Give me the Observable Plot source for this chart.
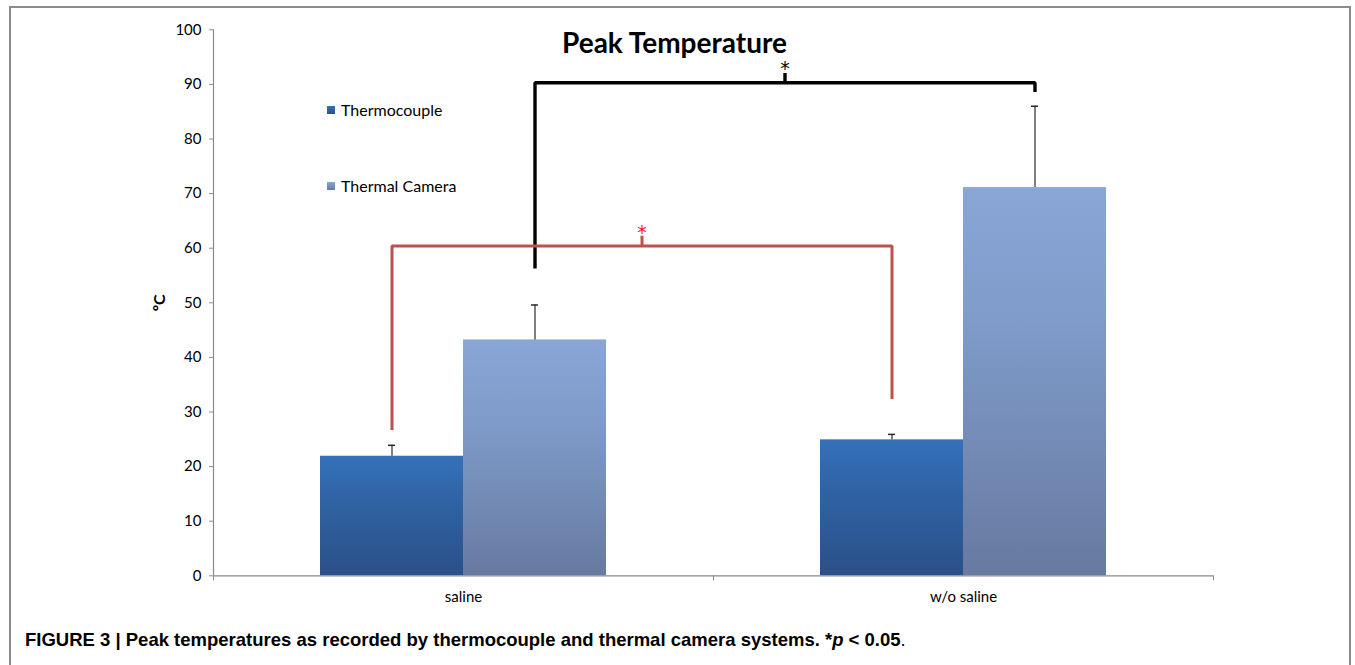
<!DOCTYPE html>
<html><head><meta charset="utf-8">
<script src="https://cdn.jsdelivr.net/npm/d3@7"></script>
<script src="https://cdn.jsdelivr.net/npm/@observablehq/plot@0.6"></script>
<style>
body{margin:0;background:#fff;}
#wrap{position:relative;width:1355px;height:665px;overflow:hidden;font-family:Lato,"Open Sans",sans-serif;}
#frame{position:absolute;left:9px;top:6px;width:1342px;height:720px;border:2px solid #8c8c8c;box-sizing:border-box;}
#chart{position:absolute;left:0;top:0;}
#title{position:absolute;left:562px;top:25px;font-weight:bold;font-size:28px;color:#000;white-space:nowrap;}
#legend{position:absolute;left:327px;top:0;font-size:16px;color:#000;}
#legend .item{position:absolute;left:0;white-space:nowrap;display:flex;align-items:center;}
#legend .sw{width:8px;height:8px;margin-right:6px;}
#caption{position:absolute;left:25px;top:629px;font-family:"Liberation Sans",Arial,sans-serif;font-weight:bold;font-size:18.5px;color:#000;white-space:nowrap;}
</style></head>
<body>
<div id="wrap">
  <div id="frame"></div>
  <div id="chart"></div>
  <div id="title">Peak Temperature</div>
  <div id="legend"></div>
  <div id="caption">FIGURE 3 | Peak temperatures as recorded by thermocouple and thermal camera systems. *<i>p</i> &lt; 0.05<span style="font-weight:normal">.</span></div>
</div>
<script>
// ---- data ----
const categories = ["saline", "w/o saline"];
const series = ["Thermocouple", "Thermal Camera"];
const thermocouple = [21.9, 24.9];
const thermocoupleErr = [2.0, 1.0];
const thermalCamera = [43.2, 71.1];
const thermalCameraErr = [6.4, 14.9];
const yTicks = [0, 10, 20, 30, 40, 50, 60, 70, 80, 90, 100];
const yLabel = "ºC";
// significance brackets: which series, across both categories
const bracketSeries = ["Thermal Camera", "Thermocouple"];
const bracketTop = [90.3, 60.4];
const bracketLeftEnd = [56.3, 26.7];
const bracketRightEnd = [88.6, 32.4];
const bracketStubTop = [92.0, 62.2];
const bracketStarY = [92.9, 62.8];
const bracketMark = ["*", "*"];

// ---- styles ----
const gradTop = ["#3571b9", "#88a6d6"];
const gradMid = ["#3064a6", "#7f9bca"];
const gradBot = ["#2a5088", "#677aa0"];
const bracketColor = ["#000000", "#c0504d"];
const starColor = ["#000000", "#ff1a1a"];
const bracketWidth = [3.4, 3];
const axisColor = "#8a8a8a";
const barFrac = 0.286; // bar width as a fraction of a category band

// ---- derived table ----
const values = [thermocouple, thermalCamera];
const errs = [thermocoupleErr, thermalCameraErr];
const rows = [];
categories.forEach((c, i) => {
  series.forEach((s, k) => {
    const center = i + 0.5;
    const x1 = center + (k - 1) * barFrac;
    rows.push({category: c, series: s, k, x1, x2: x1 + barFrac, xc: x1 + barFrac / 2,
               value: values[k][i], hi: values[k][i] + errs[k][i]});
  });
});
const seriesCenter = (s, i) => rows.find(r => r.series === s && r.category === categories[i]).xc;

const bracketMarks = [];
bracketSeries.forEach((s, j) => {
  const xl = seriesCenter(s, 0), xr = seriesCenter(s, 1), xm = (xl + xr) / 2;
  const pts = [
    {x: xl, y: bracketLeftEnd[j]}, {x: xl, y: bracketTop[j]},
    {x: xr, y: bracketTop[j]}, {x: xr, y: bracketRightEnd[j]}
  ];
  bracketMarks.push(Plot.line(pts, {x: "x", y: "y", stroke: bracketColor[j], strokeWidth: bracketWidth[j],
    strokeLinejoin: "miter", strokeLinecap: "butt", curve: "linear"}));
  bracketMarks.push(Plot.ruleX([{x: xm}], {x: "x", y1: bracketTop[j], y2: bracketStubTop[j],
    stroke: bracketColor[j], strokeWidth: bracketWidth[j]}));
  bracketMarks.push(Plot.text([{x: xm}], {x: "x", y: bracketStarY[j], text: () => bracketMark[j],
    fill: starColor[j], fontSize: 19, lineAnchor: "middle", fontFamily: "'DejaVu Sans', sans-serif"}));
});

const plot = Plot.plot({
  width: 1355,
  height: 610,
  marginLeft: 213,
  marginRight: 142,
  marginTop: 29.3,
  marginBottom: 34.7,
  style: {fontFamily: "Lato, 'Open Sans', sans-serif", fontSize: "15px", color: "#000", background: "transparent"},
  x: {type: "linear", domain: [0, categories.length]},
  y: {domain: [0, 100]},
  marks: [
    ...series.map((s, k) => Plot.rectY(rows.filter(r => r.k === k),
      {x1: "x1", x2: "x2", y: "value", fill: `url(#grad${k})`})),
    Plot.ruleX(rows, {x: "xc", y1: "value", y2: "hi", stroke: "#3a3a3a", strokeWidth: 1.3}),
    Plot.ruleY(rows, {y: "hi", x1: "xc", x2: "xc", insetLeft: -3.5, insetRight: -3.5, stroke: "#2a2a2a", strokeWidth: 1.5}),
    Plot.ruleY([0], {stroke: axisColor, strokeWidth: 1.2}),
    Plot.ruleX([0], {stroke: axisColor, strokeWidth: 1.2}),
    Plot.axisY({ticks: yTicks, tickSize: 4, tickPadding: 8, stroke: axisColor, fill: "#000", fontSize: 15,
      label: yLabel, labelAnchor: "center", labelArrow: "none", labelOffset: 60}),
    Plot.axisX({ticks: d3.range(categories.length + 1), tickSize: 5, tickFormat: () => "", stroke: axisColor, label: null}),
    Plot.axisX({ticks: categories.map((c, i) => i + 0.5), tickSize: 0, tickPadding: 16, fontSize: 15,
      tickFormat: d => categories[Math.floor(d)], label: null, fill: "#000"}),
    ...bracketMarks
  ]
});

const svg = d3.select(plot);
const defs = svg.insert("defs", ":first-child");
series.forEach((s, k) => {
  const g = defs.append("linearGradient").attr("id", `grad${k}`).attr("x1", 0).attr("y1", 0).attr("x2", 0).attr("y2", 1);
  g.append("stop").attr("offset", "0").attr("stop-color", gradTop[k]);
  g.append("stop").attr("offset", "0.35").attr("stop-color", gradMid[k]);
  g.append("stop").attr("offset", "1").attr("stop-color", gradBot[k]);
});
svg.selectAll('[aria-label="y-axis label"] text').style("font-weight", "bold").style("font-size", "16px");
document.getElementById("chart").appendChild(plot);

// legend
const legend = d3.select("#legend");
const legendTops = [100, 176];
series.forEach((s, k) => {
  const it = legend.append("div").attr("class", "item").style("top", legendTops[k] + "px");
  it.append("div").attr("class", "sw").style("background", `linear-gradient(${gradTop[k]}, ${gradBot[k]})`);
  it.append("span").text(s);
});
</script>
</body></html>
